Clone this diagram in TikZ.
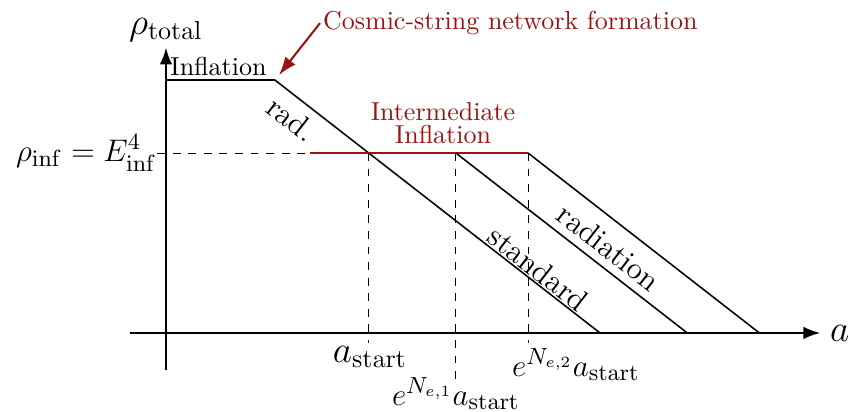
\documentclass[tikz,border=0pt]{standalone}
\usepackage{amsmath}
\usetikzlibrary{arrows.meta,positioning,calc}
\definecolor{darkred}{RGB}{150,20,20}

\begin{document}
\begin{tikzpicture}[
  axis/.style={thick, -{Latex[length=6.5pt,width=4.8pt]}},
  era/.style={semithick},
  guide/.style={dashed, line width=0.3pt},
  lbl/.style={font=\fontsize{12.8}{15}\selectfont},
  biglbl/.style={font=\Large},
  slopelbl/.style={font=\large, sloped},
]
  \useasboundingbox (-2.245,-1.068) rectangle (9.251,4.503);

  % Axes
  \coordinate (xstart) at (-0.49,0);
  \coordinate (xend) at (8.85,0);
  \coordinate (ystart) at (0,-0.50);
  \coordinate (yend) at (0,3.86);
  \draw[axis] (xstart) -- (xend) node[right, biglbl] (alabel) {$a$};
  \draw[axis] (ystart) -- (yend) node[above, biglbl, inner sep=2pt] (rholabel) {$\rho_{\mathrm{total}}$};

  % Key points
  \coordinate (infstart) at (0,3.42);
  \coordinate (kink) at (1.474,3.42);
  \coordinate (stdend) at (5.87,0);
  \coordinate (tick) at (-0.12,2.434);
  \coordinate (iistart) at (1.95,2.434);
  \coordinate (astart) at (2.74,2.434);
  \coordinate (ione) at (3.92,2.434);
  \coordinate (itwo) at (4.896,2.434);
  \coordinate (radend) at (7.05,0);
  \coordinate (farend) at (8.025,0);
  \coordinate (astartfoot) at (2.74,-0.135);
  \coordinate (ionefoot) at (3.92,-0.70);
  \coordinate (itwofoot) at (4.896,-0.135);

  % Standard history
  \draw[era] (infstart) -- (kink);
  \node[anchor=south west, inner sep=1.5pt] (inflbl) at (infstart) {Inflation};
  \draw[era] (kink) -- (stdend)
    node[pos=0.09, below, slopelbl] (radlbl) {rad.}
    node[pos=0.786, above, slopelbl, inner sep=0.5pt] (stdlbl) {standard};

  % Intermediate inflation plateau
  \node[left, inner sep=0pt, lbl] (rhoinf) at (tick) {$\rho_{\mathrm{inf}} = E_{\mathrm{inf}}^4$};
  \draw[guide] (tick) -- (iistart);
  \draw[semithick, darkred] (iistart) -- (itwo);
  \node[anchor=south, darkred, align=center] (iilbl) at (3.746,2.434) {Intermediate\\[-3pt]Inflation};

  % Later radiation eras
  \draw[era] (ione) -- (radend)
    node[pos=0.61, above, slopelbl, inner sep=3pt] (radilbl) {radiation};
  \draw[era] (itwo) -- (farend);

  % Scale factor marks
  \draw[guide] (astart) -- (astartfoot);
  \draw[guide] (ione) -- (ionefoot);
  \draw[guide] (itwo) -- (itwofoot);
  \node[biglbl] (astartlbl) at (2.76,-0.325) {$a_{\mathrm{start}}$};
  \node[lbl] (aonelbl) at (3.92,-0.825) {$e^{N_{e,1}}a_{\mathrm{start}}$};
  \node[lbl] (atwolbl) at (5.545,-0.43) {$e^{N_{e,2}}a_{\mathrm{start}}$};

  % Network formation
  \node[anchor=west, darkred, inner sep=1pt] (cosmic) at (2.083,4.19) {Cosmic-string network formation};
  \draw[darkred, thick, -{Latex[length=7pt,width=5pt]}, shorten >=2.5pt] (cosmic.west) -- (kink);
\end{tikzpicture}
\end{document}
